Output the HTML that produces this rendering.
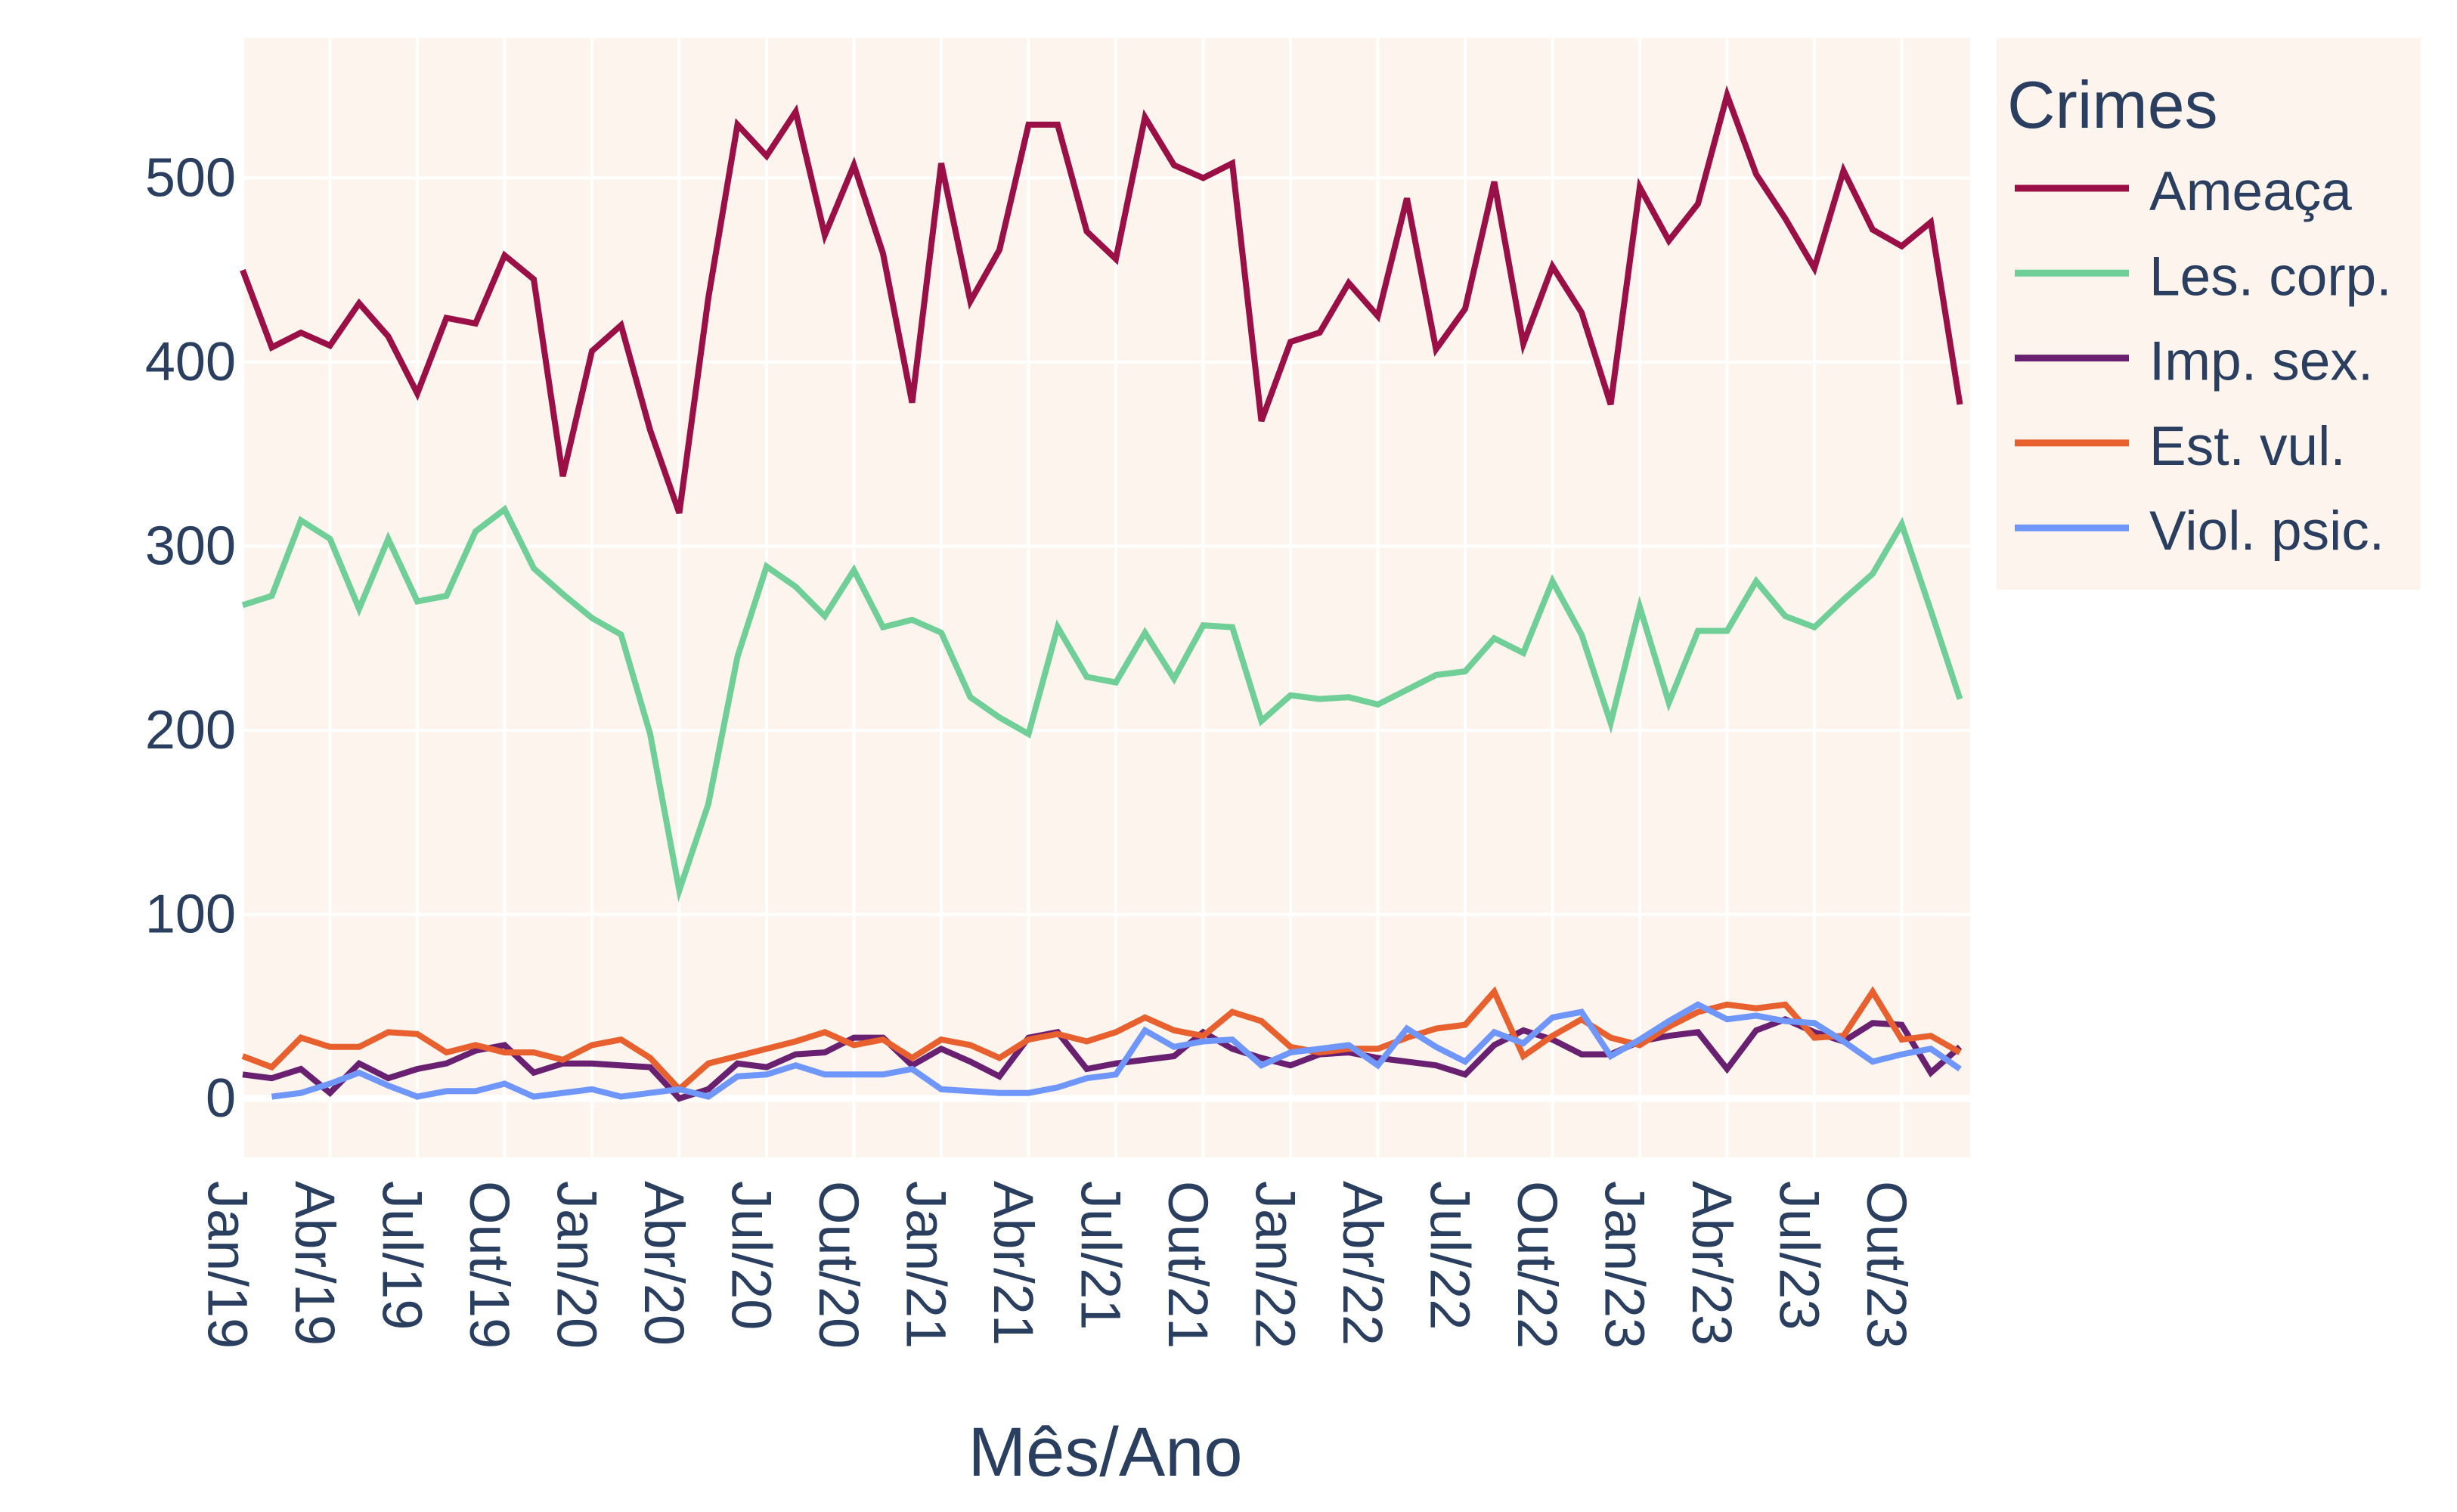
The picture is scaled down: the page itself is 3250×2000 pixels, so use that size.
<!DOCTYPE html>
<html><head><meta charset="utf-8">
<style>
html,body{margin:0;padding:0;background:#fff;}
svg{display:block;font-family:"Liberation Sans",sans-serif;}
</style></head>
<body>
<svg id="chart" width="3250" height="2000" viewBox="0 0 3250 2000" xmlns="http://www.w3.org/2000/svg">
  <rect x="321" y="50" width="2285" height="1481" fill="#fdf4ee"/>
  <g id="grid"></g>
  <g id="series"></g>
  <g id="yticks"></g>
  <g id="xticks"></g>
  <text x="1462" y="1952" text-anchor="middle" font-size="92" fill="#2a3f5f">Mês/Ano</text>
  <g>
    <rect x="2641" y="50" width="561" height="730" fill="#fdf4ee"/>
    <text x="2655" y="169" font-size="88" fill="#2a3f5f">Crimes</text>
    <g id="legend-entries"></g>
  </g>
</svg>
<script>
const months = ["Jan","Fev","Mar","Abr","Mai","Jun","Jul","Ago","Set","Out","Nov","Dez"];
const years = ["19","20","21","22","23"];
const seriesNames = ["Ameaça","Les. corp.","Imp. sex.","Est. vul.","Viol. psic."];
const seriesColors = ["#9b0f47","#6fcf97","#6a2070","#e8602e","#6f96fa"];
const ameaca = [450,408,416,409,432,414,383,424,421,458,445,338,406,420,363,318,435,529,512,536,469,507,459,378,508,433,461,529,529,471,456,533,507,500,508,368,411,416,443,425,489,407,429,498,410,452,427,377,495,466,486,545,502,478,451,504,472,463,476,377];
const lesCorp = [268,273,314,304,266,304,270,273,308,320,288,274,261,252,198,113,160,240,289,278,262,287,256,260,253,218,207,198,256,229,226,253,228,257,256,205,219,217,218,214,222,230,232,250,242,281,252,204,267,215,254,254,281,262,256,271,285,312,265,217];
const impSex = [13,11,16,3,19,11,16,19,26,29,14,19,19,18,17,0,5,19,17,24,25,33,33,18,27,20,12,33,36,16,19,21,23,36,27,22,18,24,25,22,20,18,13,29,37,32,24,24,31,34,36,16,37,43,36,31,41,40,14,28];
const estVul = [23,17,33,28,28,36,35,25,29,25,25,21,29,32,22,5,19,23,27,31,36,29,32,22,32,29,22,32,35,31,36,44,37,34,47,42,28,25,27,27,33,38,40,58,23,34,43,33,29,39,47,51,49,51,33,34,58,32,34,25];
const violPsic = [null,1,3,8,14,7,1,4,4,8,1,3,5,1,3,5,1,12,13,18,13,13,13,16,5,4,3,3,6,11,13,37,28,31,32,18,25,27,29,18,38,28,20,36,30,44,47,23,32,42,51,43,45,42,41,31,20,24,27,16];
const allSeries = [ameaca,lesCorp,impSex,estVul,violPsic];
const yTicks = [0,100,200,300,400,500];
const xTickIdx = [0,3,6,9,12,15,18,21,24,27,30,33,36,39,42,45,48,51,54,57];

const NS = "http://www.w3.org/2000/svg";
const X0 = 321, XSTEP = 38.5;
function xs(i){ return X0 + i*XSTEP; }
function ys(v){ return 1453 - v*2.435; }
function mk(tag, attrs, parent){ const e=document.createElementNS(NS,tag); for(const k in attrs) e.setAttribute(k,attrs[k]); parent.appendChild(e); return e; }

const grid = document.getElementById("grid");
xTickIdx.forEach(i=>{
  const l = mk("line",{x1:xs(i),x2:xs(i),y1:50,y2:1531,stroke:"#fff","stroke-width":4},grid);
  
  
});
yTicks.forEach(v=>{
  const l = mk("line",{x1:321,x2:2606,y1:ys(v),y2:ys(v),stroke:"#fff","stroke-width":v===0?9:4},grid);
  
  
});

const yt = document.getElementById("yticks");
yTicks.forEach(v=>{
  const t = mk("text",{x:312,y:ys(v),"text-anchor":"end","dominant-baseline":"central","font-size":72,fill:"#2a3f5f"},yt);
  t.textContent = String(v);
  
  
});

const xt = document.getElementById("xticks");
xTickIdx.forEach(i=>{
  const name = ["Jan","Abr","Jul","Out"][ (i%12)/3 ] + "/" + years[Math.floor(i/12)];
  const t = mk("text",{transform:`translate(${xs(i)-20},1562) rotate(90)`,"dominant-baseline":"central","font-size":74,fill:"#2a3f5f"},xt);
  t.textContent = name;
  
  
});

const sg = document.getElementById("series");
allSeries.forEach((arr,si)=>{
  let d="", pen=false;
  arr.forEach((v,i)=>{
    if(v===null){ pen=false; return; }
    d += (pen?"L":"M") + xs(i).toFixed(1) + "," + ys(v).toFixed(1) + " ";
    pen=true;
  });
  const p = mk("path",{d:d,fill:"none",stroke:seriesColors[si],"stroke-width":8,"stroke-linejoin":"miter"},sg);
  
  
});

const lg = document.getElementById("legend-entries");
seriesNames.forEach((n,si)=>{
  const y = 249 + si*112.3;
  const g = mk("g",{},lg);
  
  
  mk("line",{x1:2665,x2:2816,y1:y,y2:y,stroke:seriesColors[si],"stroke-width":9},g);
  const t = mk("text",{x:2843,y:y+29,"font-size":73,fill:"#2a3f5f"},g);
  t.textContent = n;
});
</script>
</body></html>
